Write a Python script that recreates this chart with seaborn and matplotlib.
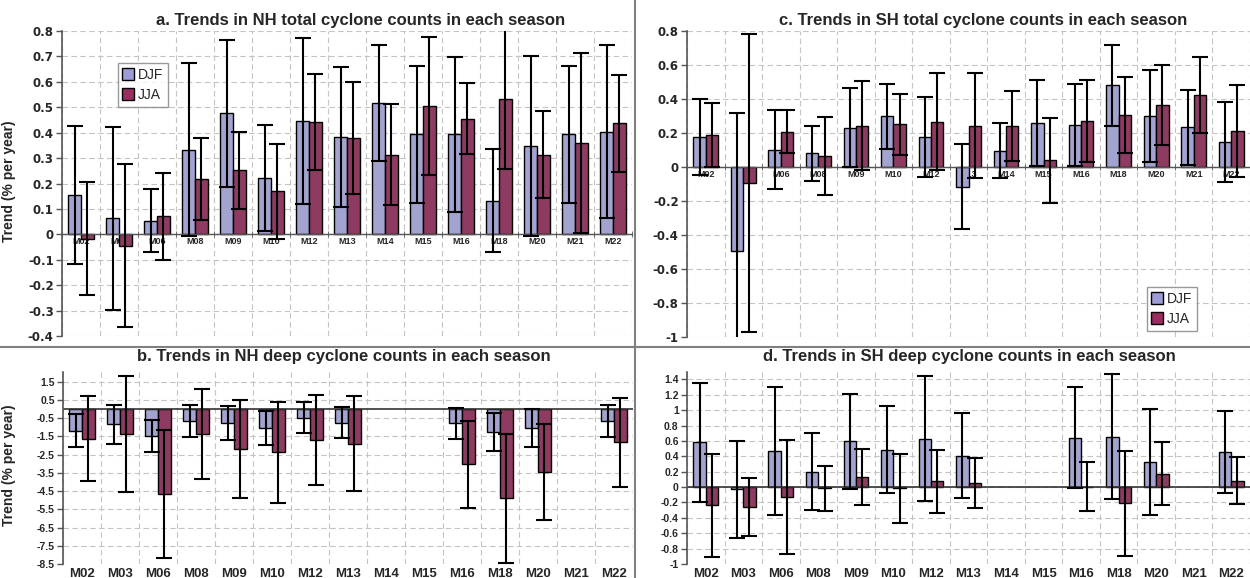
import numpy as np
import pandas as pd
import matplotlib
matplotlib.use("Agg")
import matplotlib.pyplot as plt
import seaborn as sns
from matplotlib.lines import Line2D
from matplotlib.ticker import FixedLocator, FuncFormatter

models = ["M02", "M03", "M06", "M08", "M09", "M10", "M12", "M13", "M14",
          "M15", "M16", "M18", "M20", "M21", "M22"]
seasons = ["DJF", "JJA"]
nan = np.nan

# a. NH total cyclone counts
nh_total_djf = [0.155, 0.063, 0.054, 0.333, 0.476, 0.222, 0.446, 0.384, 0.517, 0.393, 0.393, 0.133, 0.347, 0.393, 0.404]
nh_total_djf_err = [0.27, 0.36, 0.125, 0.34, 0.29, 0.21, 0.325, 0.275, 0.228, 0.27, 0.305, 0.204, 0.355, 0.27, 0.34]
nh_total_jja = [-0.018, -0.045, 0.071, 0.218, 0.252, 0.169, 0.442, 0.379, 0.314, 0.505, 0.455, 0.532, 0.314, 0.36, 0.437]
nh_total_jja_err = [0.222, 0.32, 0.172, 0.16, 0.152, 0.188, 0.19, 0.222, 0.2, 0.273, 0.14, 0.274, 0.17, 0.355, 0.19]

# c. SH total cyclone counts
sh_total_djf = [0.176, -0.492, 0.102, 0.08, 0.231, 0.298, 0.175, -0.116, 0.096, 0.257, 0.247, 0.482, 0.298, 0.233, 0.147]
sh_total_djf_err = [0.222, 0.81, 0.232, 0.162, 0.231, 0.19, 0.235, 0.25, 0.163, 0.253, 0.243, 0.238, 0.27, 0.22, 0.237]
sh_total_jja = [0.188, -0.092, 0.208, 0.065, 0.243, 0.251, 0.265, 0.243, 0.243, 0.039, 0.27, 0.306, 0.363, 0.425, 0.21]
sh_total_jja_err = [0.188, 0.877, 0.127, 0.229, 0.262, 0.18, 0.285, 0.308, 0.205, 0.249, 0.243, 0.222, 0.236, 0.224, 0.27]

# b. NH deep cyclone counts
nh_deep_djf = [-1.18, -0.84, -1.47, -0.65, -0.78, -1.05, -0.47, -0.74, nan, nan, -0.78, -1.26, -1.05, nan, -0.65]
nh_deep_djf_err = [0.9, 1.07, 0.88, 0.86, 0.93, 0.92, 0.87, 0.84, nan, nan, 0.84, 1.04, 1.03, nan, 0.87]
nh_deep_jja = [-1.62, -1.37, -4.67, -1.37, -2.19, -2.37, -1.68, -1.89, nan, nan, -3.03, -4.89, -3.45, nan, -1.82]
nh_deep_jja_err = [2.35, 3.18, 3.5, 2.47, 2.67, 2.77, 2.47, 2.62, nan, nan, 2.4, 3.53, 2.62, nan, 2.45]

# d. SH deep cyclone counts
sh_deep_djf = [0.583, -0.03, 0.47, 0.197, 0.596, 0.487, 0.63, 0.41, nan, nan, 0.643, 0.656, 0.33, nan, 0.457]
sh_deep_djf_err = [0.775, 0.63, 0.83, 0.5, 0.62, 0.565, 0.815, 0.555, nan, nan, 0.655, 0.815, 0.69, nan, 0.53]
sh_deep_jja = [-0.239, -0.26, -0.127, -0.017, 0.133, -0.017, 0.077, 0.055, nan, nan, 0.005, -0.21, 0.176, nan, 0.085]
sh_deep_jja_err = [0.665, 0.38, 0.745, 0.29, 0.36, 0.448, 0.41, 0.325, nan, nan, 0.315, 0.68, 0.41, nan, 0.3]

titles = ["a. Trends in NH total cyclone counts in each season",
          "b. Trends in NH deep cyclone counts in each season",
          "c. Trends in SH total cyclone counts in each season",
          "d. Trends in SH deep cyclone counts in each season"]
ylabel = "Trend (% per year)"

colors = {"DJF": "#9C9CD6", "JJA": "#9B2D60"}

sns.set_style("ticks")
plt.rcParams["font.family"] = ["Liberation Sans", "DejaVu Sans"]
plt.rcParams["axes.unicode_minus"] = False

W, H = 1250, 578
fig = plt.figure(figsize=(12.5, 5.78), dpi=100)


def fx(px):
    return px / W


def fy(py):
    return 1 - py / H


def make_df(djf, jja):
    rows = []
    for m, v in zip(models, djf):
        if not np.isnan(v):
            rows.append({"model": m, "season": "DJF", "trend": v})
    for m, v in zip(models, jja):
        if not np.isnan(v):
            rows.append({"model": m, "season": "JJA", "trend": v})
    return pd.DataFrame(rows)


def fmt(v, pos):
    v = round(v, 2)
    if abs(v) < 1e-9:
        return "0"
    return f"{v:g}"


def panel(rect, djf, djf_err, jja, jja_err, ylim, yticks, labels_at_zero,
          xfs, yfont, legend_pos=None):
    ax = fig.add_axes(rect)
    df = make_df(djf, jja)
    sns.barplot(data=df, x="model", y="trend", hue="season", order=models,
                hue_order=seasons, palette=colors, width=0.66, errorbar=None,
                edgecolor="black", linewidth=1.0, ax=ax, zorder=2)
    errs = {"DJF": djf_err, "JJA": jja_err}
    xs, ys, es = [], [], []
    for cont in ax.containers:
        for bar in cont:
            cx = bar.get_x() + bar.get_width() / 2
            idx = int(round(cx))
            season = "DJF" if cx < idx else "JJA"
            e = errs[season][idx]
            if np.isnan(e):
                continue
            h = bar.get_height()
            y0 = bar.get_y()
            top = y0 + h
            if y0 != 0 and h > 0:
                top = y0
            xs.append(cx)
            ys.append(top)
            es.append(e)
    ax.errorbar(xs, ys, yerr=es, fmt="none", ecolor="black", elinewidth=1.5,
                capsize=6, capthick=1.5, zorder=3)
    if ax.get_legend() is not None:
        ax.get_legend().remove()

    ax.set_xlim(-0.5, len(models) - 0.5)
    ax.set_ylim(*ylim)
    ax.yaxis.set_major_locator(FixedLocator(yticks))
    ax.yaxis.set_major_formatter(FuncFormatter(fmt))
    ax.set_xticks(np.arange(-0.5, len(models), 1), minor=True)
    ax.set_axisbelow(True)
    ax.yaxis.grid(True, which="major", ls=(0, (5, 3)), color="#c4c4c4", lw=0.8)
    ax.xaxis.grid(True, which="minor", ls=(0, (5, 3)), color="#c4c4c4", lw=0.8)
    ax.xaxis.grid(False, which="major")
    ax.set_xlabel("")
    ax.set_ylabel("")
    for s in ["top", "right"]:
        ax.spines[s].set_visible(False)
    ax.spines["left"].set_color("#555555")
    ax.spines["left"].set_linewidth(1.2)
    ax.tick_params(axis="y", direction="out", length=4, width=1, color="#555555",
                   pad=2)
    for t in ax.get_yticklabels():
        t.set_fontweight("bold")
        t.set_fontfamily(yfont[0])
        t.set_fontsize(yfont[1])
    if labels_at_zero:
        ax.spines["bottom"].set_position(("data", 0))
        ax.spines["bottom"].set_color("#555555")
        ax.spines["bottom"].set_linewidth(1.0)
        ax.tick_params(axis="x", which="major", length=0, labelsize=xfs, pad=2)
        ax.tick_params(axis="x", which="minor", length=4, direction="inout",
                       color="#555555")
    else:
        ax.spines["bottom"].set_visible(False)
        ax.axhline(0, color="#333333", lw=1.2, zorder=2.5)
        ax.tick_params(axis="x", which="both", length=0, labelsize=xfs, pad=3)
    for t in ax.get_xticklabels():
        t.set_fontweight("bold")
    if legend_pos is not None:
        handles = [Line2D([], [], marker="s", ls="", markerfacecolor=colors[s],
                          markeredgecolor="black", markersize=8, label=s)
                   for s in seasons]
        leg = ax.legend(handles=handles, loc="upper left",
                        bbox_to_anchor=legend_pos, bbox_transform=fig.transFigure,
                        frameon=True, fancybox=False, fontsize=10,
                        handlelength=0.8, handletextpad=0.3, borderpad=0.35,
                        labelspacing=0.45, borderaxespad=0)
        leg.get_frame().set_edgecolor("#808080")
        leg.get_frame().set_linewidth(1.0)
    return ax


big_y = ("DejaVu Sans", 8.5)
small_y = ("Liberation Sans", 7.5)

ax_a = panel([fx(62), fy(336), fx(570), (336 - 31) / H],
             nh_total_djf, nh_total_djf_err, nh_total_jja, nh_total_jja_err,
             (-0.4, 0.8), np.round(np.arange(-0.4, 0.81, 0.1), 2), True, 6.5,
             big_y, legend_pos=(fx(118), fy(63)))
ax_c = panel([fx(687), fy(337), fx(563), (337 - 31) / H],
             sh_total_djf, sh_total_djf_err, sh_total_jja, sh_total_jja_err,
             (-1.0, 0.8), np.round(np.arange(-1.0, 0.81, 0.2), 2), True, 6.5,
             big_y, legend_pos=(fx(1147), fy(287)))
ax_b = panel([fx(63), fy(564), fx(570), (564 - 371.7) / H],
             nh_deep_djf, nh_deep_djf_err, nh_deep_jja, nh_deep_jja_err,
             (-8.5, 2.05), np.arange(-8.5, 1.6, 1.0), False, 9.5, small_y)
ax_d = panel([fx(687), fy(564), fx(563), (564 - 371.7) / H],
             sh_deep_djf, sh_deep_djf_err, sh_deep_jja, sh_deep_jja_err,
             (-1.0, 1.5), np.round(np.arange(-1.0, 1.41, 0.2), 2), False, 9.5,
             small_y)

for ax, yc in [(ax_a, 181), (ax_b, 465)]:
    ax.set_ylabel(ylabel, fontsize=10, fontweight="bold")
    ax.yaxis.set_label_coords(fx(16), fy(yc), transform=fig.transFigure)

fig.text(fx(361), fy(20), titles[0], ha="center", va="center", fontsize=12, fontweight="bold")
fig.text(fx(344), fy(357), titles[1], ha="center", va="center", fontsize=12, fontweight="bold")
fig.text(fx(983), fy(20), titles[2], ha="center", va="center", fontsize=12, fontweight="bold")
fig.text(fx(969), fy(357), titles[3], ha="center", va="center", fontsize=12, fontweight="bold")

fig.add_artist(Line2D([fx(635), fx(635)], [0, 1], transform=fig.transFigure,
                      color="#808080", lw=1.5))
fig.add_artist(Line2D([0, 1], [fy(347), fy(347)], transform=fig.transFigure,
                      color="#808080", lw=1.5))

fig.savefig("out.png", dpi=100)
